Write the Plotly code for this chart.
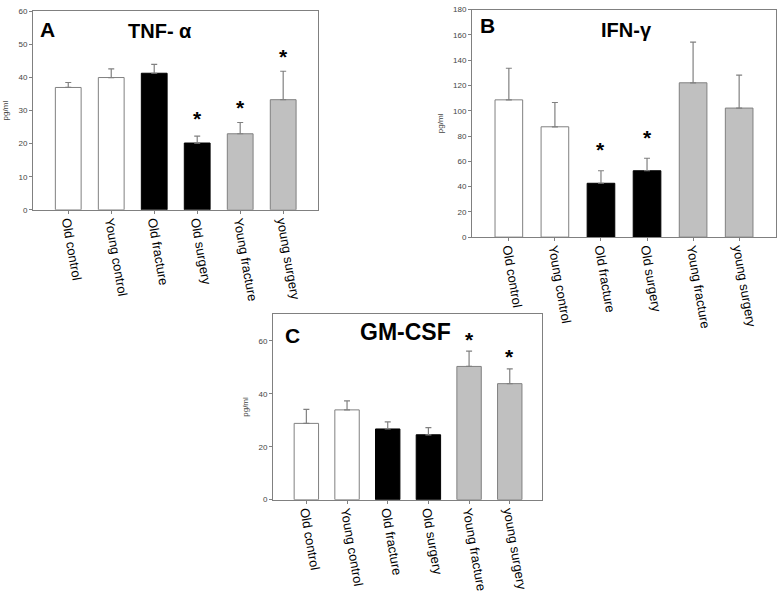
import plotly.graph_objects as go

W, H = 778, 595

categories = ["Old control", "Young control", "Old fracture", "Old surgery", "Young fracture", "young surgery"]

tnf_mean = [37.0, 40.0, 41.3, 20.2, 23.0, 33.3]
tnf_err = [1.5, 2.6, 2.7, 2.1, 3.4, 8.6]
tnf_star = [None, None, None, 27.5, 31.0, 46.5]

ifn_mean = [108.6, 87.3, 42.6, 52.5, 122.1, 102.1]
ifn_err = [25.0, 19.2, 9.9, 9.9, 32.2, 26.0]
ifn_star = [None, None, 69.5, 79.0, None, None]

gm_mean = [28.8, 33.9, 26.7, 24.5, 50.3, 43.8]
gm_err = [5.3, 3.4, 2.7, 2.7, 5.8, 5.6]
gm_star = [None, None, None, None, 60.5, 54.0]

fills = ["white", "white", "black", "black", "#c0c0c0", "#c0c0c0"]
outlines = ["#808080", "#808080", "black", "black", "#808080", "#808080"]

FONT = "Liberation Sans, Arial, sans-serif"

def px_x(p):
    return p / W

def px_y(p):
    return 1 - p / H

panels = [
    dict(mean=tnf_mean, err=tnf_err, star=tnf_star, yr=[0, 60], dt=10,
         xd=(33, 318), yd=(7.5, 209), letter="A", title="TNF- α", tsize=20,
         lp=(47, 26), tp=(160, 27), xr=[-0.82, 5.81]),
    dict(mean=ifn_mean, err=ifn_err, star=ifn_star, yr=[0, 180], dt=20,
         xd=(472, 776), yd=(5.7, 236.7), letter="B", title="IFN-γ", tsize=20,
         lp=(487, 22), tp=(626, 26), xr=[-0.8, 5.8]),
    dict(mean=gm_mean, err=gm_err, star=gm_star, yr=[0, 70], dt=20,
         xd=(273, 542.3), yd=(315, 503.3), letter="C", title="GM-CSF", tsize=23,
         lp=(292, 337), tp=(405, 333), xr=[-0.82, 5.8]),
]

fig = go.Figure()
annotations = []
for i, p in enumerate(panels):
    n = "" if i == 0 else str(i + 1)
    xa = "x" + n
    ya = "y" + n
    fig.add_trace(go.Bar(
        x=categories, y=p["mean"], xaxis=xa, yaxis=ya,
        marker=dict(color=fills, line=dict(color=outlines, width=1)),
        width=0.6,
        error_y=dict(type="data", symmetric=False, array=p["err"],
                     arrayminus=[0] * len(p["err"]), color="#808080",
                     thickness=1.2, width=3),
        showlegend=False, hoverinfo="skip",
    ))
    for c, s in zip(categories, p["star"]):
        if s is not None:
            annotations.append(dict(x=c, y=s, xref=xa, yref=ya, text="<b>*</b>",
                                    xanchor="center", yanchor="middle",
                                    showarrow=False, font=dict(size=21, color="black", family=FONT)))
    annotations.append(dict(x=px_x(p["lp"][0]), y=px_y(p["lp"][1]), xref="paper", yref="paper",
                            xanchor="center", yanchor="middle",
                            text="<b>" + p["letter"] + "</b>", showarrow=False,
                            font=dict(size=21, color="black", family=FONT)))
    annotations.append(dict(x=px_x(p["tp"][0]), y=px_y(p["tp"][1]), xref="paper", yref="paper",
                            xanchor="center", yanchor="middle",
                            text="<b>" + p["title"] + "</b>", showarrow=False,
                            font=dict(size=p["tsize"], color="black", family=FONT)))
    xkey = "xaxis" + n
    ykey = "yaxis" + n
    fig.update_layout(**{
        xkey: dict(domain=[px_x(p["xd"][0]), px_x(p["xd"][1])], anchor=ya,
                   range=p["xr"], showgrid=False, zeroline=False,
                   showline=True, linecolor="#808080", linewidth=1, mirror=True,
                   ticks="outside", ticklen=3, tickcolor="#808080",
                   ticklabelstandoff=-5,
                   tickangle=80, tickfont=dict(size=13, color="black", family=FONT)),
        ykey: dict(domain=[px_y(p["yd"][1]), px_y(p["yd"][0])], anchor=xa,
                   range=p["yr"], dtick=p["dt"], showgrid=False, zeroline=False,
                   showline=True, linecolor="#808080", linewidth=1, mirror=True,
                   ticks="outside", ticklen=3, tickcolor="#808080",
                   tickfont=dict(size=8, color="#444444", family=FONT),
                   title=dict(text="pg/ml", font=dict(size=8, color="#444444", family=FONT), standoff=8)),
    })

fig.update_layout(
    width=W, height=H, margin=dict(l=0, r=0, t=0, b=0),
    paper_bgcolor="white", plot_bgcolor="white",
    annotations=annotations, bargap=0.4,
)

fig.write_html("out.html", config={"displayModeBar": False},
               post_script="document.body.style.margin='0';")
